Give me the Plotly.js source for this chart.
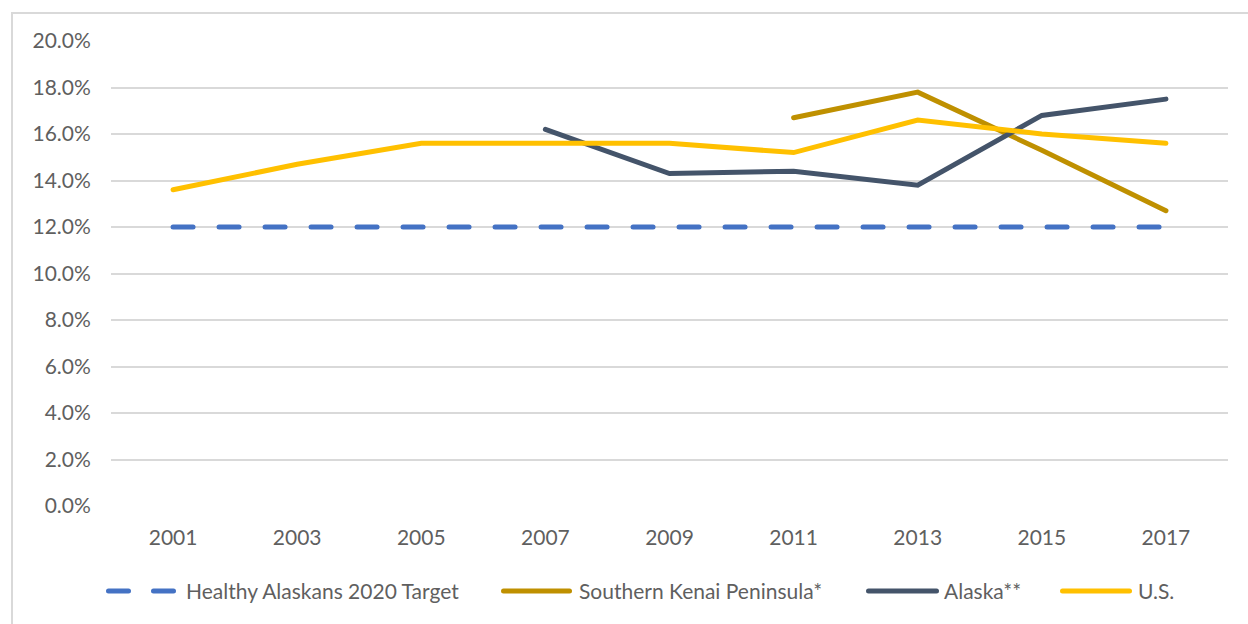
<!DOCTYPE html>
<html>
<head>
<meta charset="utf-8">
<script src="https://cdn.plot.ly/plotly-3.0.1.min.js"></script>
<style>
html,body{margin:0;padding:0;background:#fff;}
#wrap{position:relative;width:1248px;height:624px;overflow:hidden;}
#chart{width:1248px;height:624px;}
#frame{position:absolute;left:11px;top:12px;width:1300px;height:700px;border-left:2px solid #d9d9d9;border-top:2px solid #d9d9d9;pointer-events:none;}
.scatterlayer path.js-line, .shapelayer path{stroke-linecap:round;}
</style>
</head>
<body>
<div id="wrap"><div id="chart"></div><div id="frame"></div></div>
<script>
const years = ['2001','2003','2005','2007','2009','2011','2013','2015','2017'];
const target = [12.0,12.0,12.0,12.0,12.0,12.0,12.0,12.0,12.0];
const kenai = [null,null,null,null,null,16.7,17.8,15.3,12.7];
const alaska = [null,null,null,16.2,14.3,14.4,13.8,16.8,17.5];
const us = [13.6,14.7,15.6,15.6,15.6,15.2,16.6,16.0,15.6];
const yTicks = [0,2,4,6,8,10,12,14,16,18,20];
const seriesNames = ['Healthy Alaskans 2020 Target','Southern Kenai Peninsula*','Alaska**','U.S.'];
const seriesColors = ['#4472C4','#BF9000','#44546A','#FFC000'];
const seriesDash = ['20px,26px','solid','solid','solid'];

const font = 'Lato, "Open Sans", sans-serif';
const txtColor = '#5f5f5f';
const fs = 21;
const dataSets = [target, kenai, alaska, us];
const traces = dataSets.map((d, i) => ({
  x: years, y: d, name: seriesNames[i], mode: 'lines', showlegend: false,
  line: {color: seriesColors[i], width: 5, dash: seriesDash[i]}
}));

// custom legend (pixel layout converted to paper coords)
const L = 111, W = 1117, B = 506, H = 465;
const px = v => (v - L) / W;
const py = v => (B - v) / H;
const legY = 591;
const legItems = [
  {s: 108.5, e: 173.5, t: 184, dash: '20px,25px'},
  {s: 503.5, e: 569.5, t: 577},
  {s: 868.5, e: 936.5, t: 942},
  {s: 1062.5, e: 1129.5, t: 1136}
];
const shapes = legItems.map((it, i) => ({
  type: 'line', xref: 'paper', yref: 'paper',
  x0: px(it.s), x1: px(it.e), y0: py(legY), y1: py(legY),
  line: {color: seriesColors[i], width: 5, dash: it.dash || 'solid'}
}));
const annotations = legItems.map((it, i) => ({
  xref: 'paper', yref: 'paper', x: px(it.t), y: py(legY - 1),
  xanchor: 'left', yanchor: 'middle', showarrow: false,
  text: seriesNames[i], font: {family: font, size: fs, color: txtColor}
}));

const layout = {
  width: 1248, height: 624,
  margin: {l: L, r: 1248 - L - W, t: 41, b: 624 - B},
  paper_bgcolor: 'rgba(0,0,0,0)', plot_bgcolor: '#fff',
  font: {family: font, size: fs, color: txtColor},
  showlegend: false,
  shapes: shapes, annotations: annotations,
  xaxis: {type: 'category', range: [-0.5, 8.5], showgrid: false, zeroline: false,
          showline: false, ticks: 'outside', ticklen: 13, tickcolor: 'rgba(0,0,0,0)',
          tickfont: {size: fs, color: txtColor}},
  yaxis: {range: [0, 20], tickvals: yTicks, ticktext: yTicks.map(v => v.toFixed(1) + '%'),
          showgrid: true, gridcolor: '#d9d9d9', gridwidth: 2, zeroline: false, showline: false,
          ticks: 'outside', ticklen: 15, tickcolor: 'rgba(0,0,0,0)',
          tickfont: {size: fs, color: txtColor}}
};
Plotly.newPlot('chart', traces, layout, {displayModeBar: false, staticPlot: true});
</script>
</body>
</html>
